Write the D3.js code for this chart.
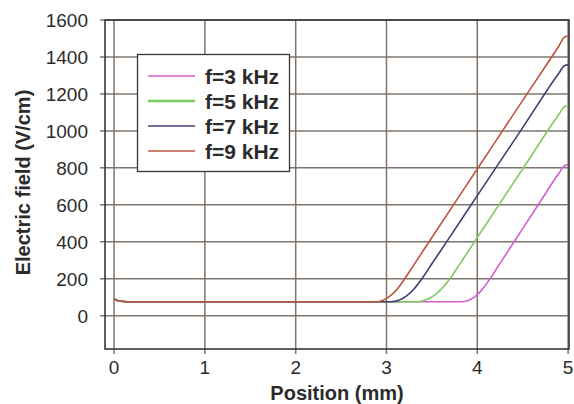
<!DOCTYPE html>
<html>
<head>
<meta charset="utf-8">
<script src="https://cdn.jsdelivr.net/npm/d3@7"></script>
<style>
  body { margin: 0; background: #fff; }
  text { font-family: "Liberation Sans", Arial, sans-serif; fill: #2b2b2b; }
</style>
</head>
<body>
<div class="display"></div>
<script>
// Electric field along position for four drive frequencies

const WIDTH = 574;
const HEIGHT = 404;
const margin = { top: 20, right: 5, bottom: 55, left: 105 };

const xTicks = [0, 1, 2, 3, 4, 5];
const yTicks = [0, 200, 400, 600, 800, 1000, 1200, 1400, 1600];

const labels = ['f=3 kHz', 'f=5 kHz', 'f=7 kHz', 'f=9 kHz'];
const colors = ['#d35fcf', '#7dcb5c', '#3f3f78', '#bd5540'];

// [position mm, field V/cm]
const f3 = [[0, 92], [0.05, 81], [0.15, 76], [1, 76], [2, 76], [3, 76], [3.825, 76], [3.9, 83], [3.975, 104], [4.05, 140],
  [4.125, 189], [4.25, 283], [4.4, 396], [4.7, 622], [4.9, 772], [4.96, 812], [5.0, 816]];
const f5 = [[0, 92], [0.05, 81], [0.15, 76], [1, 76], [2, 76], [3, 76], [3.33, 76], [3.43, 85], [3.53, 112], [3.63, 158],
  [3.73, 222], [3.8, 274], [4.0, 423], [4.5, 794], [4.9, 1090], [4.96, 1131], [5.0, 1135]];
const f7 = [[0, 91], [0.05, 80], [0.15, 76], [1, 76], [2, 76], [3.05, 76], [3.136, 84], [3.222, 107], [3.306, 146], [3.39, 200],
  [3.5, 281], [3.7, 428], [4.0, 650], [4.5, 1018], [4.9, 1313], [4.96, 1353], [5.0, 1357]];
const f9 = [[0, 90], [0.05, 80], [0.15, 76], [1, 76], [2, 76], [2.88, 76], [2.956, 83], [3.03, 103], [3.106, 137], [3.18, 185],
  [3.3, 274], [3.5, 423], [4.0, 794], [4.5, 1165], [4.9, 1461], [4.96, 1507], [5.0, 1513]];
const series = [f3, f5, f7, f9];

const svg = d3.select('.display')
  .append('svg')
  .attr('width', WIDTH)
  .attr('height', HEIGHT);

const x = d3.scaleLinear()
  .domain([-0.1, 5.01])
  .range([margin.left, WIDTH - margin.right]);

const y = d3.scaleLinear()
  .domain([-180, 1600])
  .range([HEIGHT - margin.bottom, margin.top]);

const gridColor = '#7f746d';

// grid
svg.append('g')
  .selectAll('line')
  .data(yTicks)
  .enter()
  .append('line')
  .attr('x1', x.range()[0] - 5)
  .attr('x2', x.range()[1])
  .attr('y1', d => y(d))
  .attr('y2', d => y(d))
  .attr('stroke', gridColor)
  .attr('stroke-width', 1.5);

svg.append('g')
  .selectAll('line')
  .data(xTicks)
  .enter()
  .append('line')
  .attr('x1', d => x(d))
  .attr('x2', d => x(d))
  .attr('y1', y.range()[1])
  .attr('y2', y.range()[0] + 5)
  .attr('stroke', gridColor)
  .attr('stroke-width', 1.5);

// frame
svg.append('rect')
  .attr('x', x.range()[0])
  .attr('y', y.range()[1])
  .attr('width', x.range()[1] - x.range()[0])
  .attr('height', y.range()[0] - y.range()[1])
  .attr('fill', 'none')
  .attr('stroke', '#3a3633')
  .attr('stroke-width', 1.6);

// tick labels
svg.append('g')
  .selectAll('text')
  .data(yTicks)
  .enter()
  .append('text')
  .attr('x', x.range()[0] - 17)
  .attr('y', d => y(d))
  .attr('dy', '0.36em')
  .attr('text-anchor', 'end')
  .style('font-size', '19px')
  .text(d => d);

svg.append('g')
  .selectAll('text')
  .data(xTicks)
  .enter()
  .append('text')
  .attr('x', d => x(d))
  .attr('y', y.range()[0] + 25)
  .attr('text-anchor', 'middle')
  .style('font-size', '19px')
  .text(d => d);

// axis titles
svg.append('text')
  .attr('transform', `translate(30, ${(y.range()[0] + y.range()[1]) / 2 - 2}) rotate(-90)`)
  .attr('text-anchor', 'middle')
  .style('font-size', '20px')
  .style('font-weight', 'bold')
  .text('Electric field (V/cm)');

svg.append('text')
  .attr('x', 337)
  .attr('y', 400)
  .attr('text-anchor', 'middle')
  .style('font-size', '20px')
  .style('font-weight', 'bold')
  .text('Position (mm)');

// curves
const line = d3.line()
  .x(d => x(d[0]))
  .y(d => y(d[1]))
  .curve(d3.curveMonotoneX);

svg.append('g')
  .selectAll('path')
  .data(series)
  .enter()
  .append('path')
  .attr('d', line)
  .attr('fill', 'none')
  .attr('stroke', (d, i) => colors[i])
  .attr('stroke-width', 1.6);

// legend
const legend = svg.append('g');
legend.append('rect')
  .attr('x', 137.5)
  .attr('y', 54.5)
  .attr('width', 152)
  .attr('height', 117)
  .attr('fill', '#fff')
  .attr('stroke', '#3a3633')
  .attr('stroke-width', 1.3);

const rows = legend.selectAll('.row')
  .data(labels)
  .enter()
  .append('g')
  .attr('class', 'row')
  .attr('transform', (d, i) => `translate(0, ${76 + i * 25})`);

rows.append('line')
  .attr('x1', 148)
  .attr('x2', 195)
  .attr('stroke', (d, i) => colors[i])
  .attr('stroke-width', (d, i) => i == 1 ? 2.4 : 1.6);

rows.append('text')
  .attr('x', 205)
  .attr('y', 8)
  .style('font-size', '21px')
  .style('font-weight', 'bold')
  .text(d => d);
</script>
</body>
</html>
